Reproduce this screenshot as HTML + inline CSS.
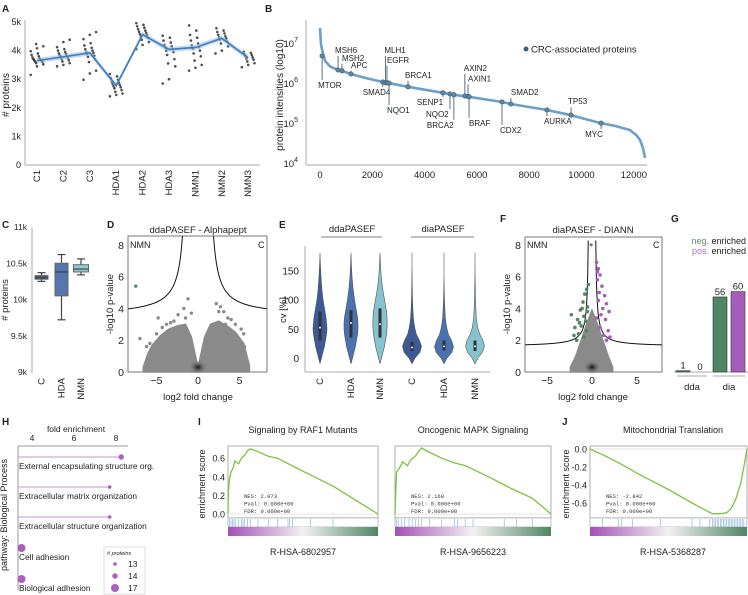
<!DOCTYPE html>
<html><head><meta charset="utf-8"><style>
html,body{margin:0;padding:0;background:#fff;}
svg{display:block;font-family:"Liberation Sans",sans-serif;}
.t{fill:#222;}
</style></head><body>
<svg id="fig" width="748" height="595" viewBox="0 0 748 595" xmlns="http://www.w3.org/2000/svg">
<defs>
<linearGradient id="gsea" x1="0" x2="1" y1="0" y2="0">
<stop offset="0" stop-color="#a44fb6"/><stop offset="0.5" stop-color="#f3f1f3"/><stop offset="1" stop-color="#4f8663"/>
</linearGradient>
<radialGradient id="coreD" cx="0.5" cy="0.5" r="0.5"><stop offset="0" stop-color="#111"/><stop offset="1" stop-color="#888" stop-opacity="0"/></radialGradient>
</defs>
<g font-weight="bold" font-size="10" class="t">
<text x="2" y="12">A</text>
<text x="265" y="12">B</text>
<text x="2" y="228">C</text>
<text x="107" y="228">D</text>
<text x="279" y="228">E</text>
<text x="500" y="222">F</text>
<text x="671" y="222">G</text>
<text x="2" y="425">H</text>
<text x="198" y="425">I</text>
<text x="562" y="425">J</text>
</g>
<g id="pA">
<line x1="25" y1="20" x2="25" y2="165" stroke="#aaa"/>
<line x1="25" y1="165" x2="260" y2="165" stroke="#aaa"/>
<text transform="translate(9,95) rotate(-90)" text-anchor="middle" font-size="10" class="t"># proteins</text>
</g>
<g id="pB">
<line x1="306" y1="20" x2="306" y2="165" stroke="#aaa"/>
<line x1="306" y1="165" x2="647" y2="165" stroke="#aaa"/>
<text transform="translate(283,95) rotate(-90)" text-anchor="middle" font-size="10" class="t">protein intensities (log10)</text>
<circle cx="526" cy="49" r="2.5" fill="#3f5f78"/>
<text x="531" y="52.5" font-size="9.5" class="t">CRC-associated proteins</text>
</g>
<g id="pC">
<line x1="32" y1="228" x2="32" y2="373" stroke="#aaa"/>
<text transform="translate(8,300) rotate(-90)" text-anchor="middle" font-size="9.5" class="t"># proteins</text>
</g>
<g id="pD">
<text x="198" y="233" text-anchor="middle" font-size="9.5" class="t">ddaPASEF - Alphapept</text>
<text transform="translate(113,304) rotate(-90)" text-anchor="middle" font-size="9.5" class="t">-log10 p-value</text>
<text x="198" y="400" text-anchor="middle" font-size="9.5" class="t">log2 fold change</text>
<text x="130" y="248" font-size="9" class="t">NMN</text>
<text x="258" y="248" font-size="9" class="t">C</text>
</g>
<g id="pE">
<line x1="305" y1="246" x2="305" y2="372" stroke="#aaa"/>
<line x1="305" y1="372" x2="490" y2="372" stroke="#aaa"/>
<text transform="translate(286,310) rotate(-90)" text-anchor="middle" font-size="9.5" class="t">cv [%]</text>
<text x="352" y="232" text-anchor="middle" font-size="9.5" class="t">ddaPASEF</text>
<line x1="321" y1="237" x2="382" y2="237" stroke="#aaa" stroke-width="1.5"/>
<text x="443" y="232" text-anchor="middle" font-size="9.5" class="t">diaPASEF</text>
<line x1="411" y1="237" x2="474" y2="237" stroke="#aaa" stroke-width="1.5"/>
</g>
<g id="pF">
<text x="593" y="233" text-anchor="middle" font-size="9.5" class="t">diaPASEF - DIANN</text>
<text transform="translate(510,304) rotate(-90)" text-anchor="middle" font-size="9.5" class="t">-log10 p-value</text>
<text x="593" y="400" text-anchor="middle" font-size="9.5" class="t">log2 fold change</text>
<text x="527" y="248" font-size="9" class="t">NMN</text>
<text x="653" y="248" font-size="9" class="t">C</text>
</g>
<g id="pG">
<text x="746" y="244" text-anchor="end" font-size="9"><tspan fill="#5a8c6c">neg.</tspan><tspan fill="#222"> enriched</tspan></text>
<text x="746" y="254" text-anchor="end" font-size="9"><tspan fill="#b070c0">pos.</tspan><tspan fill="#222"> enriched</tspan></text>
<line x1="674" y1="372" x2="748" y2="372" stroke="#aaa"/>
<line x1="677" y1="376" x2="707" y2="376" stroke="#aaa"/>
<line x1="713" y1="376" x2="745" y2="376" stroke="#aaa"/>
<text x="692" y="390" text-anchor="middle" font-size="9.5" class="t">dda</text>
<text x="729" y="390" text-anchor="middle" font-size="9.5" class="t">dia</text>
</g>
<g id="pH">
<text x="76" y="432" text-anchor="middle" font-size="8.5" class="t">fold enrichment</text>
<line x1="18" y1="446" x2="128" y2="446" stroke="#999"/>
<line x1="18" y1="446" x2="18" y2="590" stroke="#999"/>
<text transform="translate(7,515) rotate(-90)" text-anchor="middle" font-size="9" class="t">pathway: Biological Process</text>
<rect x="104" y="547" width="41" height="47" fill="#fff" stroke="#ddd"/>
<text x="107" y="555" font-size="5.5" font-style="italic" class="t"># proteins</text>
</g>
<g id="pI">
<text x="303" y="433" text-anchor="middle" font-size="9" class="t">Signaling by RAF1 Mutants</text>
<text x="303" y="555" text-anchor="middle" font-size="9" class="t">R-HSA-6802957</text>
<text x="473" y="433" text-anchor="middle" font-size="9" class="t">Oncogenic MAPK Signaling</text>
<text x="473" y="555" text-anchor="middle" font-size="9" class="t">R-HSA-9656223</text>
<text transform="translate(205,484) rotate(-90)" text-anchor="middle" font-size="9" class="t">enrichment score</text>
</g>
<g id="pJ">
<text x="673" y="433" text-anchor="middle" font-size="9" class="t">Mitochondrial Translation</text>
<text x="673" y="555" text-anchor="middle" font-size="9" class="t">R-HSA-5368287</text>
<text transform="translate(569,484) rotate(-90)" text-anchor="middle" font-size="9" class="t">enrichment score</text>
</g>
</svg>
<script>
const aCategories = ["C1","C2","C3","HDA1","HDA2","HDA3","NMN1","NMN2","NMN3"];
const aMeans = [3650,3780,3920,2780,4560,4040,4110,4430,3750];
const aTicks = [0,1000,2000,3000,4000,5000];
const aTickLabels = ["0","1k","2k","3k","4k","5k"];
const aPoints = [
 [3150,3450,3520,3560,3600,3620,3640,3660,3680,3700,3720,3760,3800,3850,3900,3980,4080,4150,4230],
 [3450,3500,3560,3620,3660,3700,3740,3780,3800,3830,3870,3900,3950,4000,4050,4120,4300,4380],
 [2980,3200,3300,3600,3700,3780,3820,3880,3920,3960,4000,4050,4100,4180,4260,4400,4550,4650],
 [2400,2450,2500,2560,2620,2680,2720,2760,2800,2840,2880,2920,2980,3040,3100,3180],
 [4050,4200,4300,4380,4450,4500,4540,4580,4620,4660,4700,4750,4800,4850,4900,4960],
 [2850,3000,3450,3550,3700,3850,3950,4000,4050,4100,4150,4200,4280,4350,4450,4520],
 [3300,3400,3500,3650,3800,3900,4000,4060,4120,4180,4250,4350,4450,4550,4700,4880],
 [3900,4000,4150,4250,4320,4380,4420,4460,4500,4550,4600,4650,4700,4780],
 [3420,3500,3560,3620,3680,3720,3760,3800,3840,3880,3920,3960]
];
const bRanks = [0,40,120,190,380,690,840,1185,1800,2400,2640,3365,4700,5120,5700,6960,7300,8680,9600,10750,11300,11850,12100,12240,12350,12430];
const bLogInt = [7.4,6.97,6.75,6.58,6.44,6.35,6.33,6.25,6.14,6.05,6.02,5.93,5.78,5.73,5.68,5.55,5.5,5.35,5.22,5.02,4.95,4.85,4.72,4.6,4.4,4.15];
const bGenes = ["MTOR","MSH6","MSH2","APC","SMAD4","MLH1","EGFR","NQO1","BRCA1","SENP1","NQO2","BRCA2","AXIN2","AXIN1","BRAF","CDX2","SMAD2","AURKA","TP53","MYC"];
const bGeneRanks = [80,690,840,1185,2400,2500,2560,2640,3365,4700,4970,5120,5540,5660,5700,6960,7300,8680,9600,10750];
const bGeneLog = [6.7,6.35,6.33,6.25,6.05,6.03,6.03,6.02,5.93,5.78,5.75,5.73,5.7,5.69,5.68,5.55,5.5,5.35,5.22,5.02];
const bXTicks = [0,2000,4000,6000,8000,10000,12000];
const bYTicks = [4,5,6,7];
const cGroups = ["C","HDA","NMN"];
const cWhiskLo = [10250,9720,10340];
const cQ1 = [10280,10050,10380];
const cMedian = [10300,10380,10420];
const cQ3 = [10330,10500,10480];
const cWhiskHi = [10370,10620,10560];
const cTicks = [9000,9500,10000,10500,11000];
const cTickLabels = ["9k","9.5k","10k","10.5k","11k"];
const dEnvX = [-6.6,-6,-5.5,-4.5,-3.5,-2.5,-1.5,-0.8,-0.3,0,0.3,0.8,1.5,2.5,3.5,4.5,5.5,6.2];
const dEnvTop = [0.3,1.2,1.7,2.3,2.7,2.9,3.0,2.2,1.0,0.3,1.0,2.2,3.0,3.2,2.9,2.5,1.8,0.4];
const dOutX = [-7,-5.8,-5,-4.8,-3.8,-3.3,-2.9,-2.4,-1.7,-1.2,-1.5,2.2,2.5,2.7,3.1,3.6,4.0,4.5,5.2,5.5,5.6,-6.2,-4.3,3.3,-2.1,-0.8];
const dOutY = [2.1,1.8,2.4,3.4,3.0,3.1,3.2,3.6,4.0,4.6,3.4,4.3,3.8,4.1,3.8,3.4,3.3,3.0,2.7,2.4,1.6,1.6,2.8,3.0,2.5,3.7];
const dSigX = [-7.5];
const dSigY = [5.4];
const dXTicks = [-5,0,5];
const dYTicks = [0,2,4,6,8];
const eGroups = ["C","HDA","NMN","C","HDA","NMN"];
const eLevels = [-10,0,10,20,30,40,50,60,70,80,90,100,120,140,160,180];
const eWidths = [
 [0,1.5,3,4.5,5.5,6.5,7,6.5,6,5,4,3,1.8,1,0.4,0],
 [0,1.5,3,4.5,5.5,6.5,7,7,6.5,5.5,4.5,3.5,2,1,0.4,0],
 [0,1.5,3,4.5,5.5,6.5,7,7.2,7,6.5,5.5,4.5,2.5,1.2,0.5,0],
 [0,3,8,9.5,7.5,4.5,3,2,1.3,1,0.7,0.5,0.3,0.1,0,0],
 [0,3,8,9.5,7.5,4.5,3,2,1.3,1,0.7,0.5,0.2,0,0,0],
 [0,3,7.5,9.5,8,5,3,2,1.3,1,0.7,0.5,0.3,0.1,0,0]
];
const eMedian = [52,60,58,18,20,20];
const eQ1 = [30,35,35,12,13,12];
const eQ3 = [80,82,85,28,30,30];
const eTicks = [0,50,100,150];
const fEnvX = [-2.4,-1.8,-1.2,-0.6,0,0.6,1.2,1.8,2.3];
const fEnvTop = [0.3,1.0,2.0,3.0,3.9,3.0,2.0,1.0,0.3];
const fNegX = [-2.3,-1.9,-1.6,-1.3,-1.0,-0.8,-0.6,-0.5,-0.9,-1.2,-1.5,-0.7,-0.4,-1.1,-0.6,-0.9,-1.7,-0.5,-2.0,-1.4];
const fNegY = [3.6,2.8,3.3,3.9,4.4,4.9,5.2,4.1,3.5,2.9,2.4,3.2,5.5,4.0,2.6,2.2,2.0,3.8,2.3,3.1];
const fPosX = [0.5,0.7,0.9,1.1,1.4,1.6,1.9,0.6,0.8,1.2,1.5,1.8,0.5,0.9,1.3,0.7,1.0,2.0,0.6,1.6];
const fPosY = [6.9,6.5,6.1,5.4,4.8,4.3,3.8,5.8,5.0,4.0,3.3,2.6,3.4,2.8,2.3,4.5,3.6,2.2,6.3,2.0];
const fGrayX = [-0.1];
const fGrayY = [8.0];
const fXTicks = [-5,0,5];
const fYTicks = [0,2,4,6,8];
const gGroups = ["dda","dia"];
const gNeg = [1,56];
const gPos = [0,60];
const hTerms = ["External encapsulating structure org.","Extracellular matrix organization","Extracellular structure organization","Cell adhesion","Biological adhesion"];
const hFold = [8.25,7.7,7.7,3.5,3.5];
const hCount = [14,13,13,17,17];
const hXTicks = [4,6,8];
const hLegendCounts = [13,14,17];
const i1X = [0,0.003,0.01,0.02,0.035,0.045,0.07,0.09,0.11,0.13,0.15,0.2,0.27,0.33,0.45,0.55,0.7,0.85,1];
const i1ES = [0,0.25,0.38,0.45,0.5,0.57,0.54,0.6,0.63,0.68,0.7,0.67,0.62,0.6,0.5,0.42,0.3,0.15,0];
const i1Hits = [0.01,0.02,0.03,0.04,0.05,0.07,0.09,0.1,0.11,0.13,0.15,0.2,0.27,0.33,0.4,0.41,0.43,0.55,0.7];
const i2X = [0,0.01,0.03,0.05,0.08,0.1,0.13,0.15,0.17,0.2,0.3,0.38,0.45,0.6,0.75,0.88,1];
const i2ES = [0,0.45,0.5,0.56,0.52,0.58,0.62,0.67,0.71,0.68,0.6,0.55,0.52,0.4,0.27,0.17,0];
const i2Hits = [0.01,0.02,0.04,0.06,0.09,0.11,0.13,0.15,0.17,0.22,0.3,0.38,0.4,0.45,0.5,0.7,0.78,0.88];
const jX = [0,0.1,0.2,0.3,0.5,0.65,0.78,0.82,0.87,0.9,0.93,0.96,0.98,1];
const jES = [0,-0.08,-0.17,-0.27,-0.45,-0.6,-0.72,-0.72,-0.71,-0.66,-0.55,-0.38,-0.2,0];
const jHits = [0.08,0.18,0.2,0.27,0.45,0.65,0.7,0.76,0.78,0.79,0.8,0.81,0.82,0.83,0.84,0.85,0.86,0.87,0.88,0.89,0.9,0.91,0.92,0.93,0.94,0.95,0.96,0.97,0.98];
const gseaStats = [["NES: 2.073","Pval: 0.000e+00","FDR: 0.000e+00"],["NES: 2.168","Pval: 0.000e+00","FDR: 0.000e+00"],["NES: -2.842","Pval: 0.000e+00","FDR: 0.000e+00"]];
const esTicksI = [0,0.2,0.4,0.6];
const esTicksJ = [0,-0.2,-0.4,-0.6];

const NS="http://www.w3.org/2000/svg";
const svg=document.getElementById('fig');
function mk(tag,attrs,parent){const e=document.createElementNS(NS,tag);for(const k in attrs)e.setAttribute(k,attrs[k]);(parent||svg).appendChild(e);return e;}
function txt(x,y,s,size,anchor,parent){const e=mk('text',{x:x,y:y,'font-size':size,'text-anchor':anchor||'middle',fill:'#222'},parent);e.textContent=s;return e;}

const ax=i=>37+i*26.4, ay=v=>165-v*0.0286;
aTicks.forEach((v,i)=>{
 const t=txt(21,ay(v)+3,aTickLabels[i],9,'end');
 
 
});
aCategories.forEach((c,i)=>{
 const t=mk('text',{transform:`translate(${ax(i)+3},${170}) rotate(-90)`,'font-size':9.5,'text-anchor':'end',fill:'#222'});
 t.textContent=c;
 
 
});
aPoints.forEach((arr,i)=>{
 arr.forEach((v,k)=>{
  const off=((k*37)%15-7)*0.9;
  const p=mk('circle',{cx:ax(i)+off,cy:ay(v),r:1.3,fill:'#222','fill-opacity':0.8});
  
  
 });
});
{
 let up=aMeans.map((m,i)=>`${ax(i)},${ay(m+90)}`).join(' ');
 let dn=aMeans.map((m,i)=>`${ax(i)},${ay(m-90)}`).reverse().join(' ');
 const band=mk('polygon',{points:up+' '+dn,fill:'#9fc2e4','fill-opacity':0.6});
 
 
 const ln=mk('polyline',{points:aMeans.map((m,i)=>`${ax(i)},${ay(m)}`).join(' '),fill:'none',stroke:'#3a7bbf','stroke-width':1.6});
 
 
}

const bx=r=>320+r*52.3/2000, by=l=>164-(l-4)*40;
bXTicks.forEach(v=>{
 const t=txt(bx(v),178,String(v),9.5);
 
 
});
bYTicks.forEach(v=>{
 const t=mk('text',{x:298,y:by(v)+3,'font-size':9.5,'text-anchor':'end',fill:'#222'});
 t.textContent='10';
 const s=mk('tspan',{dy:-5,'font-size':7},t); s.textContent=String(v);
 
 
});
{
 const c=mk('polyline',{points:bRanks.map((r,i)=>`${bx(r)},${by(bLogInt[i])}`).join(' '),fill:'none',stroke:'#6d9fc7','stroke-width':2.6,'stroke-linejoin':'round'});
 
 
}
const bLab = {MTOR:[0,32,-4],MSH6:[0,-17,-3],MSH2:[0,-10,0],APC:[0,-6,0],SMAD4:[0,13,-20],MLH1:[0,-30,-1],EGFR:[0,-20,0],NQO1:[0,30,-2],BRCA1:[0,-9,-3],SENP1:[0,12,-26],NQO2:[0,23,-24],BRCA2:[0,33,-27],AXIN2:[0,-25,-1],AXIN1:[0,-15,0],BRAF:[0,29,0],CDX2:[0,31,-2],SMAD2:[0,-9,0],AURKA:[0,14,-3],TP53:[0,-11,-3],MYC:[0,14,-16]};
bGenes.forEach((g,i)=>{
 const x=bx(bGeneRanks[i]), y=by(bGeneLog[i]);
 const L=bLab[g], ly=y+L[1];
 const ln=mk('line',{x1:x,y1:y,x2:x,y2:ly+(L[1]<0?3:-8),stroke:'#2f4f66','stroke-width':0.8});
 
 
 const d=mk('circle',{cx:x,cy:y,r:2.2,fill:'#5f87a8',stroke:'#3f5f78','stroke-width':0.7});
 
 
 const t=txt(x+L[2],ly,g,8,'start');
 
 
});

const cy=v=>372-(v-9000)*0.0725;
const cCenters=[41.5,61.5,81], cFill=['#3f5b86','#5677ad','#8fcbd6'];
cTicks.forEach((v,i)=>{
 const t=txt(27,cy(v)+3,cTickLabels[i],8.5,'end');
 
 
});
cGroups.forEach((g,i)=>{
 const x=cCenters[i], hw=i==2?7.5:6.5;
 const w=mk('line',{x1:x,x2:x,y1:cy(cWhiskLo[i]),y2:cy(cWhiskHi[i]),stroke:'#444','stroke-width':1.2});
 
 
 [cWhiskLo[i],cWhiskHi[i]].forEach(v=>{
  const cap=mk('line',{x1:x-4,x2:x+4,y1:cy(v),y2:cy(v),stroke:'#444','stroke-width':1.2});
  
  
 });
 const b=mk('rect',{x:x-hw,y:cy(cQ3[i]),width:hw*2,height:cy(cQ1[i])-cy(cQ3[i]),fill:cFill[i],stroke:'#666','stroke-width':1});
 
 
 const m=mk('line',{x1:x-hw,x2:x+hw,y1:cy(cMedian[i]),y2:cy(cMedian[i]),stroke:'#444','stroke-width':1.2});
 
 
 const t=mk('text',{transform:`translate(${x+3},378) rotate(-90)`,'font-size':9.5,'text-anchor':'end',fill:'#222'});
 t.textContent=g;
 
 
});

function volcano(pre,x0,x1,y0,y1,sx,sy,ticksX,ticksY,envX,envTop,thr,color){
 const fr=mk('rect',{x:x0,y:y0,width:x1-x0,height:y1-y0,fill:'none',stroke:'#777','stroke-width':1});
 
 
 ticksX.forEach(v=>{const t=txt(sx(v),y1+12,v<0?'\u2212'+(-v):String(v),10.5);
  
  });
 ticksY.forEach(v=>{const t=txt(x0-4,sy(v)+4,String(v),10.5,'end');
  
  });
 const pts=envX.map((v,i)=>`${sx(v)},${sy(envTop[i])}`).join(' ')+` ${sx(envX[envX.length-1])},${sy(0)} ${sx(envX[0])},${sy(0)}`;
 const cl=mk('polygon',{points:pts,fill:color,stroke:color,'stroke-width':1.5,'stroke-linejoin':'round'});
 
 
 const core=mk('ellipse',{cx:sx(0),cy:sy(0.3),rx:9,ry:7,fill:'url(#coreD)'});
 
 
 [-1,1].forEach(side=>{
  let p=[];
  for(let a=thr.x0+0.02;a<=9;a+=0.05){const yv=thr.y0+thr.c/(a-thr.x0); if(yv>8.6)continue; p.push(`${sx(side*a)},${sy(yv)}`);}
  const ln=mk('polyline',{points:p.join(' '),fill:'none',stroke:'#111','stroke-width':1,'clip-path':`url(#clip-${pre})`});
  
  
 });
 const cp=mk('clipPath',{id:'clip-'+pre},svg.querySelector('defs'));
 mk('rect',{x:x0,y:y0,width:x1-x0,height:y1-y0},cp);
}
function dots(pre,xs,ys,sx,sy,col,r,name){
 xs.forEach((v,i)=>{const c=mk('circle',{cx:sx(v),cy:sy(ys[i]),r:r,fill:col});
  
  });
}
const dx=v=>198+v*8.3, dy=v=>372-v*15.9;
volcano('d',128,267,236,372,dx,dy,dXTicks,dYTicks,dEnvX,dEnvTop,{x0:1.2,y0:3.5,c:3.4},'#8a8a8a');
dots('d',dOutX,dOutY,dx,dy,'#8a8a8a',1.7,'d-protein-point');
dots('d',dSigX,dSigY,dx,dy,'#4f8663',1.7,'d-significant-point');
const fx=v=>592+v*9, fy=v=>372-v*15.9;
volcano('f',525,662,237,372,fx,fy,fXTicks,fYTicks,fEnvX,fEnvTop,{x0:0.3,y0:1.6,c:0.8},'#8a8a8a');
dots('f',fNegX,fNegY,fx,fy,'#4f8663',1.8,'f-neg-enriched-point');
dots('f',fPosX,fPosY,fx,fy,'#a45db8',1.8,'f-pos-enriched-point');
dots('f',fGrayX,fGrayY,fx,fy,'#777',1.6,'f-protein-point');

const ey=v=>358-v*0.584;
const eCenters=[320,351,380,412,444,475], eCol=['#3c5a96','#4b71b0','#86c3d1','#3c5a96','#4b71b0','#86c3d1'];
eTicks.forEach(v=>{const t=txt(299,ey(v)+4,String(v),10,'end');
 
 });
eGroups.forEach((g,i)=>{
 const x=eCenters[i], w=eWidths[i];
 const R=eLevels.map((l,k)=>`${x+w[k]},${ey(l)}`), L=eLevels.map((l,k)=>`${x-w[k]},${ey(l)}`).reverse();
 const v=mk('polygon',{points:R.concat(L).join(' '),fill:eCol[i],stroke:'#555','stroke-width':0.6,'stroke-linejoin':'round'});
 
 
 const b=mk('rect',{x:x-1.5,y:ey(eQ3[i]),width:3,height:ey(eQ1[i])-ey(eQ3[i]),fill:'#333'});
 
 
 const m=mk('circle',{cx:x,cy:ey(eMedian[i]),r:1,fill:'#eee'});
 
 
 const t=mk('text',{transform:`translate(${x+3},378) rotate(-90)`,'font-size':9.5,'text-anchor':'end',fill:'#222'});
 t.textContent=g;
 
 
});

const gy=v=>372-v*1.34;
const gX=[[676,693],[713,731]];
gGroups.forEach((g,i)=>{
 [[gNeg[i],'#4f8663','neg'],[gPos[i],'#a45db8','pos']].forEach((d,k)=>{
  const x=gX[i][k];
  const r=mk('rect',{x:x,y:gy(d[0]),width:14,height:372-gy(d[0]),fill:d[1],stroke:'#333','stroke-width':0.6});
  
  
  const t=txt(x+7,gy(d[0])-2,String(d[0]),9.5);
  
  
 });
});

const hx=v=>32+(v-4)*21, hRowY=[457,487,517,548,579];
const hr=n=>n<=13?1.8:(n<=14?2.7:4);
hXTicks.forEach(v=>{const t=txt(hx(v),441,String(v),8.5);
 
 });
hTerms.forEach((term,i)=>{
 const y=hRowY[i];
 const l=mk('line',{x1:18,x2:hx(hFold[i]),y1:y,y2:y,stroke:'#d3a6dc','stroke-width':1.3});
 
 
 const c=mk('circle',{cx:hx(hFold[i]),cy:y,r:hr(hCount[i]),fill:'#ad5ec0'});
 
 
 const t=txt(19,y+12,term,8.3,'start');
 
 
});
hLegendCounts.forEach((n,i)=>{
 const y=564+i*12;
 const c=mk('circle',{cx:115,cy:y,r:hr(n),fill:'#ad5ec0'});
 
 
 const t=txt(128,y+3,String(n),8.5,'start');
 
 
});

function gsea(pre,x0,w,zeroY,scale,xs,es,hits,stats,ticks){
 const top=446, esBot=518;
 const fr=mk('rect',{x:x0,y:top,width:w,height:esBot-top,fill:'none',stroke:'#999','stroke-width':0.8});
 
 
 const z=mk('line',{x1:x0,x2:x0+w,y1:zeroY,y2:zeroY,stroke:'#ccc','stroke-width':0.6});
 
 
 const hb=mk('rect',{x:x0,y:esBot,width:w,height:9,fill:'#fff',stroke:'#999','stroke-width':0.6});
 
 
 hits.forEach(h=>{const l=mk('line',{x1:x0+h*w,x2:x0+h*w,y1:esBot+1,y2:esBot+9,stroke:'#5b9ad0','stroke-width':0.6,'stroke-opacity':0.8});
  
  });
 const g=mk('rect',{x:x0,y:esBot+9,width:w,height:9,fill:'url(#gsea)'});
 
 
 const c=mk('polyline',{points:xs.map((v,i)=>`${x0+v*w},${zeroY-es[i]*scale}`).join(' '),fill:'none',stroke:'#7cc242','stroke-width':1.3});
 
 
 stats.forEach((s,i)=>{const t=mk('text',{x:x0+16,y:498+i*7.5,'font-size':5.5,fill:'#333','font-family':'Liberation Mono, monospace'});
  t.textContent=s;
  
  });
 if(ticks){ticks.forEach(v=>{const t=txt(x0-3,zeroY-v*scale+3.5,v.toFixed(1),9,'end');
  
  });}
}
gsea('i1',228,150,514,93,i1X,i1ES,i1Hits,gseaStats[0],esTicksI);
gsea('i2',395,156,514,93,i2X,i2ES,i2Hits,gseaStats[1],null);
gsea('j',590,157,449,90,jX,jES,jHits,gseaStats[2],esTicksJ);
</script>
</body></html>
